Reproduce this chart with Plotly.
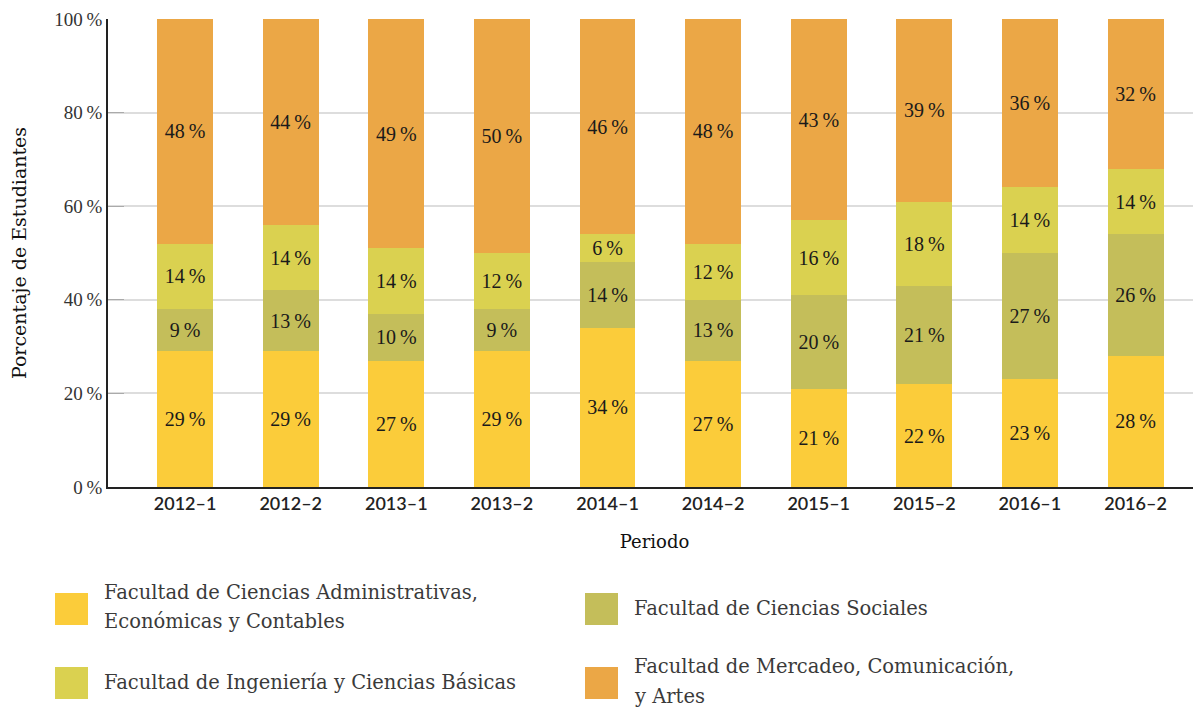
import plotly.graph_objects as go

# periodos y porcentaje de estudiantes por facultad
periodos = ["2012–1", "2012–2", "2013–1", "2013–2", "2014–1",
            "2014–2", "2015–1", "2015–2", "2016–1", "2016–2"]

administrativas = [29, 29, 27, 29, 34, 27, 21, 22, 23, 28]
sociales = [9, 13, 10, 9, 14, 13, 20, 21, 27, 26]
ingenieria = [14, 14, 14, 12, 6, 12, 16, 18, 14, 14]
mercadeo = [48, 44, 49, 50, 46, 48, 43, 39, 36, 32]

y_ticks = [0, 20, 40, 60, 80, 100]

series = [
    (["Facultad de Ciencias Administrativas,", "Económicas y Contables"], administrativas, "#FBCC3A"),
    (["Facultad de Ciencias Sociales"], sociales, "#C4BE5A"),
    (["Facultad de Ingeniería y Ciencias Básicas"], ingenieria, "#DAD150"),
    (["Facultad de Mercadeo, Comunicación,", "y Artes"], mercadeo, "#EBA746"),
]

# the page puts the figure 8px in from the top-left corner
OFF = 8
W, H = 1201 - OFF, 708 - OFF
ML, MR, MT, MB = 108 - OFF, 0, 19 - OFF, 708 - 487
PW, PH = W - ML - MR, H - MT - MB

serif = "Liberation Serif"
slab = "DejaVu Serif"
fig = go.Figure()

for name, vals, color in series:
    fig.add_trace(go.Bar(
        x=periodos, y=vals, name=" ".join(name),
        marker=dict(color=color, line=dict(width=0)),
        width=0.53,
        text=[f"{v}\u2009%" for v in vals],
        textposition="inside", insidetextanchor="middle", textangle=0,
        constraintext="none",
        textfont=dict(family=serif, size=20, color="#1a1a1a"),
        showlegend=False,
    ))


def px_x(p):
    # window pixel -> paper x
    return (p - OFF - ML) / PW


def px_y(p):
    # window pixel -> paper y
    return (H - MB - (p - OFF)) / PH


# leyenda manual con cuadros grandes (2 columnas)
legend_pos = [(55, 593), (585, 593), (55, 667), (585, 667)]
shapes = []
annotations = []
for (name, vals, color), (lx, ly) in zip(series, legend_pos):
    shapes.append(dict(type="rect", xref="paper", yref="paper",
                       x0=px_x(lx), x1=px_x(lx + 33), y0=px_y(ly), y1=px_y(ly + 32),
                       fillcolor=color, line=dict(width=0)))
    if len(name) == 1:
        lines = [(name[0], ly + 15)]
    else:
        lines = [(name[0], ly - 1), (name[1], ly + 29)]
    for txt, ty in lines:
        annotations.append(dict(text=txt, xref="paper", yref="paper",
                                x=px_x(lx + 47), y=px_y(ty), xanchor="left", yanchor="middle",
                                showarrow=False,
                                font=dict(family=slab, size=19.5, color="#3a3a3a")))

fig.update_layout(
    width=W, height=H,
    margin=dict(l=ML, r=MR, t=MT, b=MB),
    barmode="stack",
    plot_bgcolor="white", paper_bgcolor="white",
    shapes=shapes, annotations=annotations,
    xaxis=dict(
        range=[-0.73, 9.62],
        showline=True, linecolor="#222", linewidth=1.5,
        ticks="", showgrid=False,
        tickfont=dict(family="Lato", size=18, color="#222", weight=600),
        title=dict(text="Periodo", standoff=22,
                   font=dict(family=slab, size=18, color="#111")),
    ),
    yaxis=dict(
        range=[0, 100],
        tickvals=y_ticks, ticktext=[f"{t}\u2009%" for t in y_ticks],
        showline=True, linecolor="#222", linewidth=1.5,
        showgrid=True, gridcolor="#dddddd", gridwidth=1.5,
        ticks="inside", ticklen=16, tickcolor="#aaaaaa",
        zeroline=False,
        tickfont=dict(family=serif, size=19, color="#333"),
        title=dict(text="Porcentaje de Estudiantes", standoff=24,
                   font=dict(family=slab, size=19, color="#111")),
    ),
)

fig.write_html("out.html")
